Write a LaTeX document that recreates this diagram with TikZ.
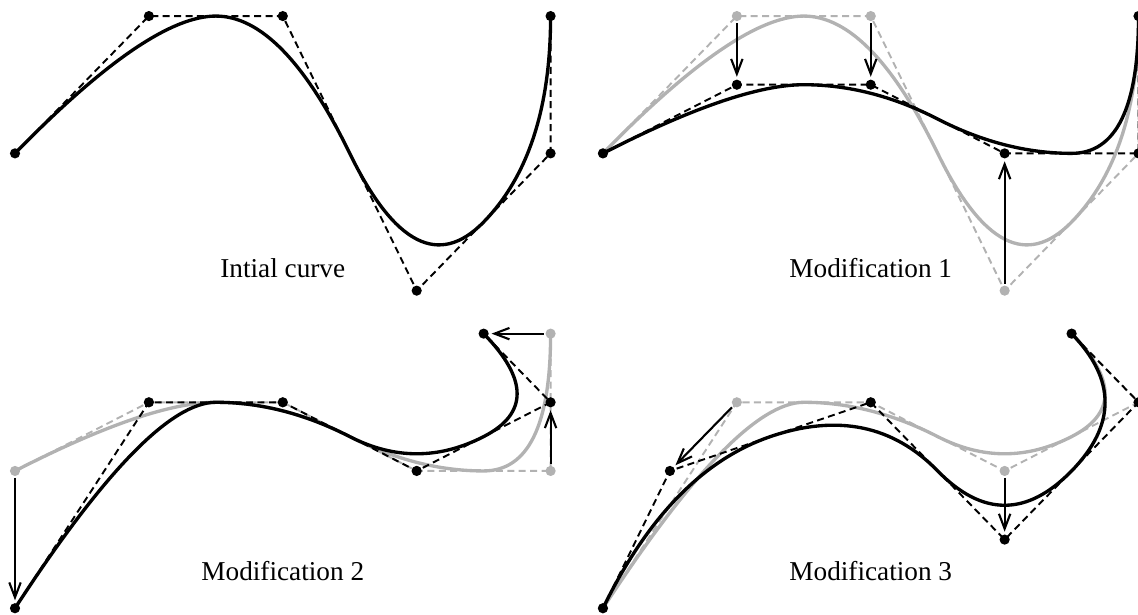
\documentclass[tikz,border=0pt]{standalone}
\usepackage{fontspec}
\setmainfont{Liberation Serif}
\usepackage{xcolor}
\usepackage{tikz}
\usetikzlibrary{calc, arrows.meta}

\definecolor{oldgray}{RGB}{178,178,178}

\tikzset{
  polygon/.style={dash pattern=on 4pt off 2.5pt, line width=1.1pt},
  curve/.style={line width=1.9pt},
  moved/.style={-{Straight Barb[length=8.5pt,width=6.5pt]}, line width=1.2pt,
    shorten <=4pt, shorten >=4.5pt},
  caption/.style={anchor=base, font=\fontsize{15.5}{18}\selectfont},
}

% six control points #1 0..5 from a list x/y
\newcommand{\ctrlpts}[2]{%
  \foreach \x/\y [count=\i from 0] in {#2}{
    \coordinate (#1\i) at (\x,\y);
  }%
}

% one quadratic piece from #1 to #3 with control point #2
\newcommand{\qpiece}[3]{.. controls ($(#1)!2/3!(#2)$) and ($(#3)!2/3!(#2)$) .. (#3)}

% clamped quadratic B-spline with its control polygon and dots
\newcommand{\bspline}[2]{%
  \coordinate (#2m1) at ($(#21)!.5!(#22)$);
  \coordinate (#2m2) at ($(#22)!.5!(#23)$);
  \coordinate (#2m3) at ($(#23)!.5!(#24)$);
  \draw[curve,#1] (#20) \qpiece{#20}{#21}{#2m1} \qpiece{#2m1}{#22}{#2m2}
    \qpiece{#2m2}{#23}{#2m3} \qpiece{#2m3}{#24}{#25};
  \draw[polygon,#1] (#20) -- (#21) -- (#22) -- (#23) -- (#24) -- (#25);
  \foreach \i in {0,...,5}{
    \fill[#1] (#2\i) circle (2.9pt);
  }%
}

\begin{document}
\begin{tikzpicture}[x=2.678cm, y=2.746cm]
  \useasboundingbox (-0.112,-2.355) rectangle (8.387,2.117);

  % initial curve
  \ctrlpts{a}{0/1, 1/2, 2/2, 3/0, 4/1, 4/2}
  \bspline{black}{a}
  \node[caption] (lab1) at (2,0.0925) {Intial curve};

  % modification 1
  \begin{scope}[shift={(4.391,0)}]
    \ctrlpts{ga}{0/1, 1/2, 2/2, 3/0, 4/1, 4/2}
    \ctrlpts{b}{0/1, 1/1.5, 2/1.5, 3/1, 4/1, 4/2}
    \bspline{oldgray}{ga}
    \bspline{black}{b}
    \foreach \i in {1,2,3}
      \draw[moved] (ga\i) -- (b\i);
    \node[caption] (lab2) at (2,0.0925) {Modification 1};
  \end{scope}

  % modification 2
  \begin{scope}[shift={(0,-2.313)}]
    \ctrlpts{gb}{0/1, 1/1.5, 2/1.5, 3/1, 4/1, 4/2}
    \ctrlpts{c}{0/0, 1/1.5, 2/1.5, 3/1, 4/1.5, 3.5/2}
    \bspline{oldgray}{gb}
    \bspline{black}{c}
    \foreach \i in {0,4,5}
      \draw[moved] (gb\i) -- (c\i);
    \node[caption] (lab3) at (2,0.199) {Modification 2};
  \end{scope}

  % modification 3
  \begin{scope}[shift={(4.391,-2.313)}]
    \ctrlpts{gc}{0/0, 1/1.5, 2/1.5, 3/1, 4/1.5, 3.5/2}
    \ctrlpts{d}{0/0, 0.5/1, 2/1.5, 3/0.5, 4/1.5, 3.5/2}
    \bspline{oldgray}{gc}
    \bspline{black}{d}
    \foreach \i in {1,3}
      \draw[moved] (gc\i) -- (d\i);
    \node[caption] (lab4) at (2,0.199) {Modification 3};
  \end{scope}
\end{tikzpicture}
\end{document}
